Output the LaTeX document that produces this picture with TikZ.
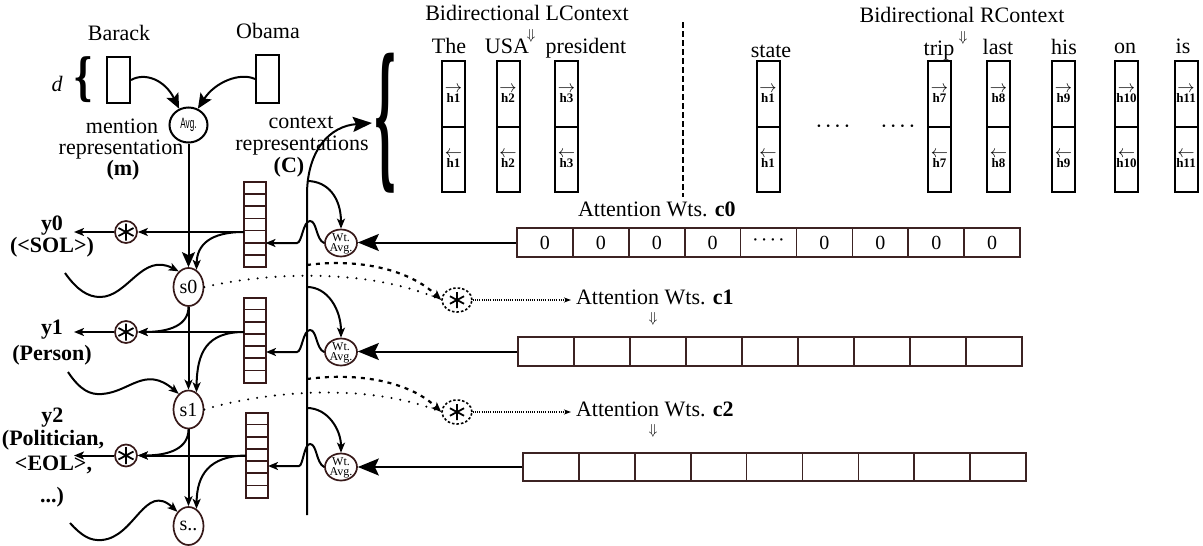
\documentclass[tikz,border=0pt]{standalone}
\usepackage{fontspec}
\setmainfont{Liberation Serif}
\newfontfamily\sansfnt{Liberation Sans}
\newfontfamily\bracefnt{DejaVu Serif}
\usetikzlibrary{arrows.meta,calc,shapes.geometric}
\definecolor{dbrown}{RGB}{55,25,25}
\definecolor{cellc}{RGB}{60,35,35}
\begin{document}
\begin{tikzpicture}[x=1pt,y=-1pt,line width=2pt,
  txt/.style={font=\fontsize{22}{24}\selectfont, inner sep=0pt, anchor=base},
  btxt/.style={font=\fontsize{22}{24}\selectfont\bfseries, inner sep=0pt, anchor=base},
  arrtxt/.style={font=\fontsize{15}{15}\selectfont, inner sep=0pt},
  vecbox/.style={draw, line width=2pt, minimum width=23pt, minimum height=46pt, inner sep=0pt},
  hcol/.style={draw, line width=2pt, minimum width=23pt, inner sep=0pt, outer sep=0pt, align=center, font=\fontsize{13}{13}\selectfont\bfseries},
  snode/.style={ellipse, draw=dbrown, line width=1.7pt, minimum width=30pt, minimum height=38pt, inner sep=0pt, font=\fontsize{20}{20}\selectfont},
  wavg/.style={ellipse, draw=dbrown, line width=1.7pt, minimum width=32pt, minimum height=27pt, inner sep=0pt},
  wtxt/.style={inner sep=0pt, align=center, font=\fontsize{12}{10}\selectfont},
  stk/.style={draw=dbrown, line width=2pt, minimum width=22pt, minimum height=85pt, inner sep=0pt, outer sep=0pt},
  cellbox/.style={draw=cellc, line width=1.7pt, minimum width=55.9pt, minimum height=29pt, inner sep=0pt, font=\fontsize{20}{20}\selectfont},
  aster/.style={path picture={
      \draw[solid, line width=1.8pt, black]
        ($(path picture bounding box.center)+(90:#1)$) -- ($(path picture bounding box.center)+(270:#1)$)
        ($(path picture bounding box.center)+(28:#1)$) -- ($(path picture bounding box.center)+(208:#1)$)
        ($(path picture bounding box.center)+(152:#1)$) -- ($(path picture bounding box.center)+(332:#1)$);}},
  oxnode/.style={circle, draw=dbrown, line width=1.7pt, minimum size=22pt, inner sep=0pt, aster=8.5pt},
  oxdash/.style={ellipse, draw, dash pattern=on 2.5pt off 2pt, line width=1.6pt, minimum width=30pt, minimum height=24pt, inner sep=0pt, aster=8pt},
  smtip/.style={-{Stealth[length=10pt,width=8pt,inset=2.5pt]}},
  midtip/.style={-{Stealth[length=15pt,width=13pt,inset=3pt]}},
  bigtip/.style={-{Stealth[length=21pt,width=17pt,inset=4pt]}},
  dotline/.style={line width=2.3pt, line cap=round, dash pattern=on 0pt off 9pt},
  dashline/.style={line width=2.2pt, dash pattern=on 4pt off 5pt},
  fineline/.style={line width=1.5pt, dash pattern=on 1pt off 1.2pt},
]
\useasboundingbox (0,0) rectangle (1203,546);

% ---------- mention part ----------
\node[txt] (barack) at (119,40) {Barack};
\node[txt] (obama) at (268,38) {Obama};
\node[vecbox] (vb) at (118.5,80) {};
\node[vecbox, minimum height=48pt] (vo) at (267.5,79) {};
\node[font=\fontsize{22}{24}\selectfont\itshape, inner sep=0pt] (dlab) at (57,84) {d};
\node[inner sep=0pt] (dbrace) at (84,80) {\resizebox*{20pt}{46pt}{\bracefnt\bfseries\{}};
\node[ellipse, draw, line width=2pt, minimum width=38pt, minimum height=35pt, inner sep=0pt] (avg) at (188.5,125)
  {\sansfnt\fontsize{15}{15}\selectfont\scalebox{0.55}[1]{Avg.}};
\node[txt] (men1) at (122,133) {mention};
\node[txt] (men2) at (121,154) {representation};
\node[btxt] (men3) at (123,175) {(m)};
\node[txt] (ctx1) at (301,128) {context};
\node[txt] (ctx2) at (302,150) {representations};
\node[btxt] (ctx3) at (289,172) {(C)};

\draw[midtip] (vb.east) .. controls (145,72) and (165,80) .. (avg.120);
\draw[midtip] (vo.west) .. controls (240,72) and (215,82) .. (avg.60);

% ---------- bidirectional context ----------
\node[txt] (lctx) at (527,20) {Bidirectional LContext};
\node[arrtxt] (larr) at (531,36) {$\Downarrow$};
\node[txt] (rctx) at (962,22) {Bidirectional RContext};
\node[arrtxt] (rarr) at (963,38) {$\Downarrow$};
\node[txt] (wThe) at (449,53) {The};
\node[txt] (wUSA) at (507,53) {USA};
\node[txt] (wpres) at (586,53) {president};
\node[txt] (wstate) at (771,57) {state};
\node[txt] (wtrip) at (939,55) {trip};
\node[txt] (wlast) at (998,54) {last};
\node[txt] (whis) at (1064,54) {his};
\node[txt] (won) at (1125,53) {on};
\node[txt] (wis) at (1183,53) {is};

\foreach \i/\x/\h in {1/453.5/h1, 2/508/h2, 3/566.5/h3, 4/768/h1, 5/939.5/h7, 6/998.5/h8, 7/1063.5/h9, 8/1126.5/h10, 9/1186/h11}{
  \node[hcol, minimum height=66pt] (u\i) at (\x,94) {{\fontsize{16}{16}\selectfont$\rightarrow$}\\[-3pt]\h};
  \node[hcol, minimum height=65pt] (l\i) at (\x,159.5) {{\fontsize{16}{16}\selectfont$\leftarrow$}\\[-3pt]\h};
}
\coordinate (divtop) at (683,22);
\coordinate (divbot) at (683,197);
\draw[line width=2pt, dash pattern=on 6pt off 3pt] (divtop) -- (divbot);
\node[txt] (dots1) at (833,133) {·\kern2pt·\kern2pt·\kern2pt·};
\node[txt] (dots2) at (898,133) {·\kern2pt·\kern2pt·\kern2pt·};

\node[inner sep=0pt] (bigbr) at (385,123) {\resizebox*{24pt}{140pt}{\bracefnt\bfseries\{}};

% ---------- decoder states ----------
\node[snode] (s0) at (188.5,287) {s0};
\node[snode] (s1) at (188.5,409.5) {s1};
\node[snode] (s2) at (188.5,526) {s..};

\node[stk] (k0) at (254.5,224.5) {};
\node[stk] (k1) at (255,340) {};
\node[stk] (k2) at (257,455) {};
\foreach \k in {0,1,2}{
  \foreach \j in {1,...,6}{
    \draw[dbrown, line width=1.7pt] ($(k\k.north west)!\j/7!(k\k.south west)$) -- ($(k\k.north east)!\j/7!(k\k.south east)$);
  }
}

\node[oxnode] (o0) at (126,232) {};
\node[oxnode] (o1) at (126,332) {};
\node[oxnode] (o2) at (126,455.5) {};

\node[btxt] (y0a) at (52,230) {y0};
\node[btxt] (y0b) at (52,252) {(<SOL>)};
\node[btxt] (y1a) at (52,334) {y1};
\node[btxt] (y1b) at (52,360) {(Person)};
\node[btxt] (y2a) at (52.5,422) {y2};
\node[btxt] (y2b) at (53,445) {(Politician,};
\node[btxt] (y2c) at (53.5,470) {<EOL>,};
\node[btxt] (y2d) at (52,502) {...)};

\coordinate (y0e) at (74,232);
\coordinate (y1e) at (74,332);
\coordinate (y2e) at (74,455.5);
\draw[smtip] (o0.west) -- (y0e);
\draw[smtip] (o1.west) -- (y1e);
\draw[smtip] (o2.west) -- (y2e);

\draw[smtip] (o0.east -| k0.west) -- (o0.east);
\draw[smtip] (o1.east -| k1.west) -- (o1.east);
\draw[smtip] (o2.east -| k2.west) -- (o2.east);

\draw[smtip] (o0.east -| k0.west) .. controls (210,232) and (197,245) .. (s0.65);
\draw[smtip] (o1.east -| k1.west) .. controls (207,332) and (197,352) .. (s1.65);
\draw[smtip] (o2.east -| k2.west) .. controls (209,456) and (197,475) .. (s2.65);

\draw[midtip] (avg.south) -- (s0.north);
\draw[smtip] (s0.south) -- (s1.north);
\draw[smtip] (s1.south) -- (s2.north);
\draw[smtip] (s0.south) .. controls (188.5,325) and (170,332) .. (o1.east);
\draw[smtip] (s1.south) .. controls (188.5,448) and (170,455.5) .. (o2.east);

\coordinate (w0) at (65,273);
\coordinate (w1) at (68,372);
\coordinate (w2) at (70,523);
\draw[smtip] (w0) .. controls (77,290) and (88,297) .. (100,297) .. controls (128,297) and (142,252) .. (s0.122);
\draw[smtip] (w1) .. controls (80,390) and (90,395) .. (102,394) .. controls (130,392) and (145,365) .. (s1.122);
\draw[smtip] (w2) .. controls (82,536) and (90,541) .. (102,540) .. controls (135,537) and (145,482) .. (s2.128);

% ---------- context line ----------
\coordinate (cbot) at (307,515);
\coordinate (ctop) at (307,195);
\draw[-{Stealth[length=19pt,width=15pt,inset=3pt]}] (cbot) -- (ctop) .. controls (307,150) and (330,126) .. (bigbr.west);

\node[wavg] (a0) at (341,243) {};
\node[wavg] (a1) at (341,352) {};
\node[wavg] (a2) at (341,467) {};
\node[wtxt] (a0t) at (341,244) {Wt.\\Avg.};
\node[wtxt] (a1t) at (341,353) {Wt.\\Avg.};
\node[wtxt] (a2t) at (341,468) {Wt.\\Avg.};

\coordinate (cj0) at (307,181);
\coordinate (cj1) at (307,287);
\coordinate (cj2) at (307,408);
\draw[smtip] (cj0) .. controls (328,181) and (341,198) .. (a0.north);
\draw[smtip] (cj1) .. controls (328,287) and (341,310) .. (a1.north);
\draw[smtip] (cj2) .. controls (328,408) and (341,430) .. (a2.north);

\coordinate (hp0) at (297,243);
\coordinate (hp1) at (297,352);
\coordinate (hp2) at (299,466);
\draw[smtip] (a0.west) .. controls (316,240) and (317,221) .. (310,221) .. controls (303,221) and (302,243) .. (hp0) -- (hp0 -| k0.east);
\draw[smtip] (a1.west) .. controls (316,349) and (317,330) .. (310,330) .. controls (303,330) and (302,352) .. (hp1) -- (hp1 -| k1.east);
\draw[smtip] (a2.west) .. controls (316,463) and (317,444) .. (310,444) .. controls (304,444) and (303,466) .. (hp2) -- (hp2 -| k2.east);

% ---------- attention rows ----------
\node[txt, anchor=base west, inner xsep=4pt] (att0) at (573,216) {Attention Wts. \textbf{c0}};
\node[txt, anchor=base west, inner xsep=4pt] (att1) at (571,304) {Attention Wts. \textbf{c1}};
\node[txt, anchor=base west, inner xsep=4pt] (att2) at (571,416) {Attention Wts. \textbf{c2}};
\node[arrtxt] (d1) at (653,319) {$\Downarrow$};
\node[arrtxt] (d2) at (653,431) {$\Downarrow$};

\foreach \i/\t in {1/0,2/0,3/0,4/0,5/{·\kern2pt·\kern2pt·\kern2pt·},6/0,7/0,8/0,9/0}{
  \node[cellbox] (r0-\i) at ({517+(\i-0.5)*55.9},242.5) {\t};
}
\foreach \i in {1,...,9}{
  \node[cellbox] (r1-\i) at ({518+(\i-0.5)*56},351.5) {};
  \node[cellbox, minimum height=28pt] (r2-\i) at ({523+(\i-0.5)*55.9},467) {};
}
\draw[bigtip] (r0-1.west) -- (r0-1.west -| a0.east);
\draw[bigtip] (r1-1.west) -- (r1-1.west -| a1.east);
\draw[bigtip] (r2-1.west) -- (r2-1.west -| a2.east);

% ---------- attention computation ----------
\node[oxdash] (q1) at (457,300) {};
\node[oxdash] (q2) at (457,412) {};
\coordinate (dj1) at (307,265);
\coordinate (dj2) at (307,379);
\draw[dotline] (s0.east) .. controls (270,272) and (370,268) .. (q1.west);
\draw[dotline] (s1.east) .. controls (270,390) and (370,383) .. (q2.west);
\draw[dashline, -{Stealth[length=10pt,width=8pt,inset=2.5pt]}] (dj1) .. controls (360,258) and (410,270) .. (q1.west);
\draw[dashline, -{Stealth[length=10pt,width=8pt,inset=2.5pt]}] (dj2) .. controls (360,372) and (410,382) .. (q2.west);
\draw[fineline, -{Stealth[length=7pt,width=5pt,inset=2pt]}] (q1.east) -- (q1.east -| att1.west);
\draw[fineline, -{Stealth[length=7pt,width=5pt,inset=2pt]}] (q2.east) -- (q2.east -| att2.west);
\end{tikzpicture}
\end{document}
